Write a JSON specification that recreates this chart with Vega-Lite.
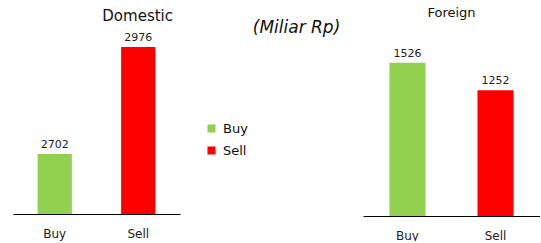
{
  "$schema": "https://vega.github.io/schema/vega-lite/v6.json",
  "padding": {"left": 13, "top": 7, "right": 0, "bottom": 0},
  "background": "white",
  "data": {"values": [
    {"panel": "Domestic", "type": "Buy", "value": 2702},
    {"panel": "Domestic", "type": "Sell", "value": 2976},
    {"panel": "Foreign", "type": "Buy", "value": 1526},
    {"panel": "Foreign", "type": "Sell", "value": 1252}
  ]},
  "title": {"text": "(Miliar Rp)", "fontStyle": "italic", "fontSize": 17, "fontWeight": "normal", "font": "DejaVu Sans", "color": "#111", "anchor": "middle", "dx": 20, "offset": -30},
  "spacing": 183,
  "bounds": "flush",
  "config": {"view": {"stroke": null}, "font": "DejaVu Sans"},
  "hconcat": [
    {
      "width": 167, "height": 186,
      "transform": [{"filter": "datum.panel === 'Domestic'"}],
      "title": {"text": "Domestic", "anchor": "end", "dx": -7, "fontSize": 15, "fontWeight": "normal", "color": "#111", "offset": 4},
      "encoding": {
        "x": {"field": "type", "type": "nominal", "sort": ["Buy", "Sell"], "scale": {"paddingInner": 0.59, "paddingOuter": 0.295}, "axis": {"title": null, "labelAngle": 0, "ticks": false, "labelPadding": 14, "domainColor": "black", "labelFontSize": 12, "labelColor": "#222"}},
        "y": {"field": "value", "type": "quantitative", "scale": {"domain": [2548, 3025], "zero": false, "clamp": true}, "axis": null}
      },
      "layer": [
        {"mark": {"type": "bar"}, "encoding": {"color": {"field": "type", "type": "nominal", "scale": {"domain": ["Buy", "Sell"], "range": ["#92D050", "#FF0000"]}, "legend": {"title": null, "orient": "none", "legendX": 192, "legendY": 94, "symbolType": "square", "symbolSize": 64, "labelFontSize": 13, "labelColor": "#111", "rowPadding": 8, "padding": 0, "labelOffset": 5, "symbolStrokeWidth": 0}}}},
        {"mark": {"type": "text", "baseline": "bottom", "dy": -4, "fontSize": 11, "color": "#222"}, "encoding": {"text": {"field": "value", "type": "quantitative", "format": "d"}}}
      ]
    },
    {
      "width": 177, "height": 188,
      "transform": [{"filter": "datum.panel === 'Foreign'"}],
      "title": {"text": "Foreign", "anchor": "middle", "fontSize": 13, "fontWeight": "normal", "color": "#111", "offset": 8},
      "encoding": {
        "x": {"field": "type", "type": "nominal", "sort": ["Buy", "Sell"], "scale": {"paddingInner": 0.59, "paddingOuter": 0.3}, "axis": {"title": null, "labelAngle": 0, "ticks": false, "labelPadding": 14, "domainColor": "black", "labelFontSize": 12, "labelColor": "#222"}},
        "y": {"field": "value", "type": "quantitative", "scale": {"domain": [0, 1871]}, "axis": null}
      },
      "layer": [
        {"mark": {"type": "bar"}, "encoding": {"color": {"field": "type", "type": "nominal", "legend": null}}},
        {"mark": {"type": "text", "baseline": "bottom", "dy": -4, "fontSize": 11, "color": "#222"}, "encoding": {"text": {"field": "value", "type": "quantitative", "format": "d"}}}
      ]
    }
  ]
}
